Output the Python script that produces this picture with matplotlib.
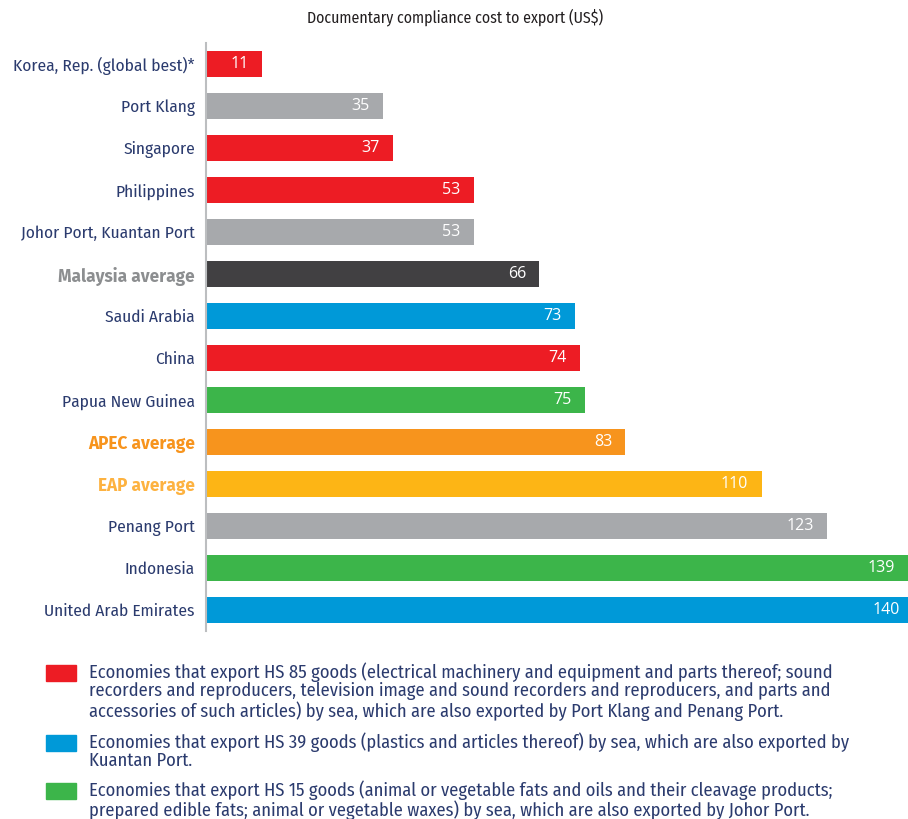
import matplotlib.pyplot as plt
from matplotlib.patches import Rectangle

# Documentary compliance cost to export (US$)
economies = [
    "Korea, Rep. (global best)*", "Port Klang", "Singapore", "Philippines",
    "Johor Port, Kuantan Port", "Malaysia average", "Saudi Arabia", "China",
    "Papua New Guinea", "APEC average", "EAP average", "Penang Port",
    "Indonesia", "United Arab Emirates",
]
costs = [11, 35, 37, 53, 53, 66, 73, 74, 75, 83, 110, 123, 139, 140]
groups = ["hs85", "port", "hs85", "hs85", "port", "malaysia", "hs39", "hs85",
          "hs15", "apec", "eap", "port", "hs15", "hs39"]

legend_groups = ["hs85", "hs39", "hs15"]
legend_texts = [
    "Economies that export HS 85 goods (electrical machinery and equipment and parts thereof; sound\n"
    "recorders and reproducers, television image and sound recorders and reproducers, and parts and\n"
    "accessories of such articles) by sea, which are also exported by Port Klang and Penang Port.",
    "Economies that export HS 39 goods (plastics and articles thereof) by sea, which are also exported by\n"
    "Kuantan Port.",
    "Economies that export HS 15 goods (animal or vegetable fats and oils and their cleavage products;\n"
    "prepared edible fats; animal or vegetable waxes) by sea, which are also exported by Johor Port.",
]

bar_colors = {
    "hs85": "#ED1C24", "hs39": "#0099D8", "hs15": "#3CB54A", "port": "#A7A9AC",
    "malaysia": "#414042", "apec": "#F7941D", "eap": "#FDB515",
}
label_colors = {"malaysia": "#8C8E90", "apec": "#F7941D", "eap": "#FDB240"}
navy = "#2B3B6E"
font = ["Fira Sans Condensed", "DejaVu Sans"]
bold_font = ["Fira Sans", "DejaVu Sans"]
num_font = ["Open Sans", "DejaVu Sans"]

fig = plt.figure(figsize=(9.08, 8.19), dpi=100)
ax = fig.add_axes([206 / 908, 1 - 631 / 819, 1 - 206 / 908, 588 / 819])

ypos = list(range(len(economies)))
ax.barh(ypos, costs, height=0.64, color=[bar_colors[g] for g in groups])
for y, v in zip(ypos, costs):
    ax.text(v - 2.6, y, str(v), color="white", ha="right", va="center",
            fontsize=11.5, family=num_font, clip_on=False)

# the longest bar runs slightly past the right edge
ax.set_xlim(0, 139)
ax.set_ylim(len(economies) - 0.5, -0.5)
ax.set_yticks(ypos)
ax.set_yticklabels(economies, family=font, fontsize=12.5, fontweight="normal")
for lbl, g in zip(ax.get_yticklabels(), groups):
    lbl.set_color(label_colors.get(g, navy))
    if g in label_colors:
        lbl.set_family(bold_font)
        lbl.set_fontweight("bold")
        lbl.set_fontsize(12.4)
ax.tick_params(axis="y", length=0, pad=8)
ax.set_xticks([])
for side in ["top", "right", "bottom"]:
    ax.spines[side].set_visible(False)
ax.spines["left"].set_color("#BCBEC0")
ax.spines["left"].set_linewidth(1.5)

fig.text(455 / 908, 1 - 17 / 819, "Documentary compliance cost to export (US$)",
         ha="center", va="center", fontsize=11.4, family=font, fontweight="normal",
         color="#231F20")

# Legend with coloured squares and wrapped descriptions
legend_tops = [665, 735, 783]
for g, txt, top in zip(legend_groups, legend_texts, legend_tops):
    fig.patches.append(Rectangle((46 / 908, 1 - (top + 16) / 819), 30 / 908, 16 / 819,
                                 transform=fig.transFigure, color=bar_colors[g]))
    fig.text(89 / 908, 1 - (top - 3) / 819, txt, ha="left", va="top", fontsize=13.3,
             family=font, fontweight="normal", color=navy, linespacing=1.04)

fig.savefig("out.png", dpi=100)
